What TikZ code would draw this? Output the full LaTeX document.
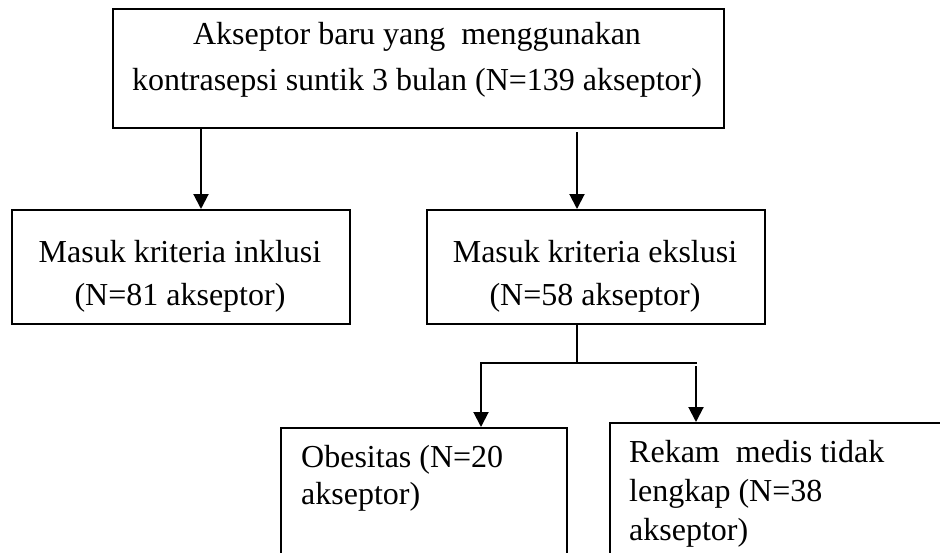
\documentclass[tikz,border=0pt]{standalone}
\usepackage{fontspec}
\setmainfont{Liberation Serif}
\usetikzlibrary{arrows.meta}
\begin{document}
\begin{tikzpicture}[x=1pt,y=-1pt,
  boxx/.style={draw=black, line width=2pt, inner sep=0pt, anchor=north west},
  txt/.style={inner sep=0pt, anchor=base, font=\fontsize{32}{38}\selectfont},
  txtl/.style={inner sep=0pt, anchor=base west, font=\fontsize{32}{38}\selectfont},
  conn/.style={line width=2pt, -{Triangle[length=15pt,width=15pt]}},
  plain/.style={line width=2pt}]
\useasboundingbox (0,0) rectangle (940,552);
\clip (0,0) rectangle (940,552);
% boxes
\node[boxx, minimum width=611pt, minimum height=119pt] (top) at (112,8) {};
\node[boxx, minimum width=338pt, minimum height=114pt] (incl) at (11,209) {};
\node[boxx, minimum width=338pt, minimum height=114pt] (excl) at (426,209) {};
\node[boxx, minimum width=286pt, minimum height=200pt] (obes) at (280,427) {};
\node[boxx, minimum width=400pt, minimum height=200pt] (rekam) at (609,422) {};
% texts
\node[txt] (t1) at (417,44) {Akseptor baru yang \ menggunakan};
\node[txt] (t2) at (417,90) {kontrasepsi suntik 3 bulan (N=139 akseptor)};
\node[txt] (i1) at (180,262) {Masuk kriteria inklusi};
\node[txt] (i2) at (180,305) {(N=81 akseptor)};
\node[txt] (e1) at (595,262) {Masuk kriteria ekslusi};
\node[txt] (e2) at (595,305) {(N=58 akseptor)};
\node[txtl] (o1) at (301,467) {Obesitas (N=20};
\node[txtl] (o2) at (301,504) {akseptor)};
\node[txtl] (r1) at (629,462) {Rekam \ medis tidak};
\node[txtl] (r2) at (629,501) {lengkap (N=38};
\node[txtl] (r3) at (629,540) {akseptor)};
% connectors
\coordinate (split) at (577,363);
\coordinate (bl) at (481,363);
\coordinate (br) at (696,363);
\draw[conn] (top.south -| 201,0) -- (incl.north -| 201,0);
\draw[conn] ([yshift=-3pt]top.south -| 577,0) -- (excl.north -| 577,0);
\draw[plain] (excl.south -| split) -- (split);
\draw[plain, line cap=rect] (bl) -- (br);
\draw[conn] (bl) -- (obes.north -| bl);
\draw[conn] ([yshift=-3pt]br) -- (rekam.north -| br);
\end{tikzpicture}
\end{document}
